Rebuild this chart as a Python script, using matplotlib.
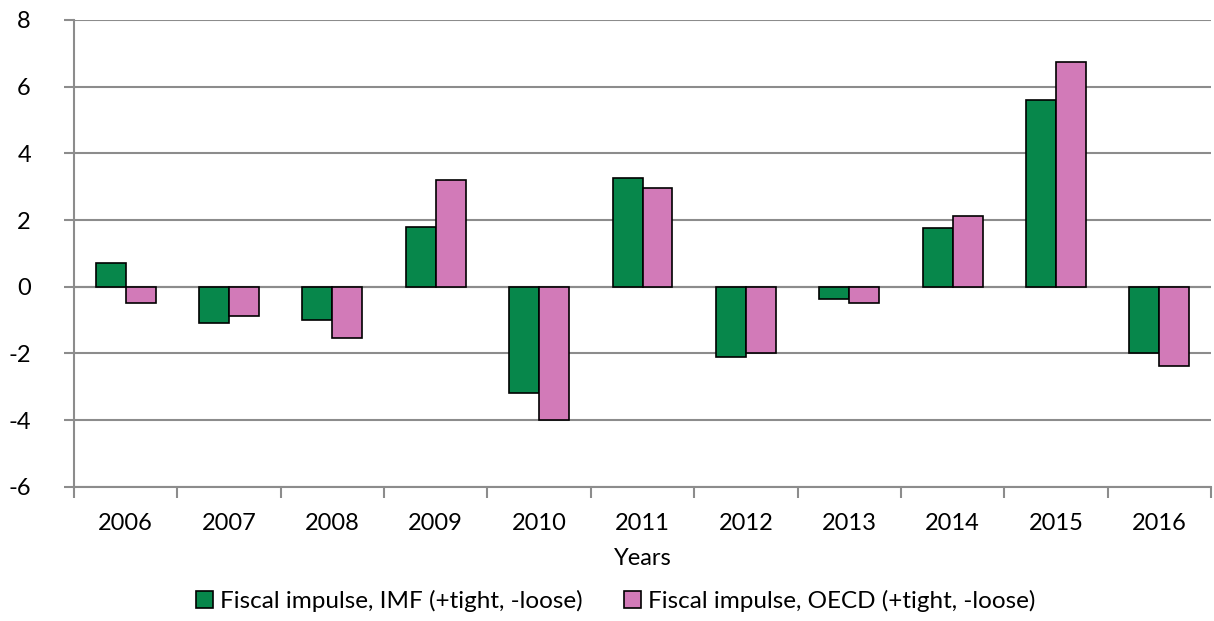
import numpy as np
import matplotlib.pyplot as plt

years = ['2006', '2007', '2008', '2009', '2010', '2011', '2012', '2013', '2014', '2015', '2016']
imf = [0.7, -1.1, -1.0, 1.8, -3.2, 3.25, -2.1, -0.38, 1.75, 5.6, -2.0]
oecd = [-0.5, -0.87, -1.55, 3.2, -4.0, 2.95, -2.0, -0.5, 2.12, 6.75, -2.37]
labels = ['Fiscal impulse, IMF (+tight, -loose)', 'Fiscal impulse, OECD (+tight, -loose)']

plt.rcParams['font.family'] = ['Lato', 'DejaVu Sans']
plt.rcParams['axes.unicode_minus'] = False

fig = plt.figure(figsize=(12.14, 6.21), dpi=100)
ax = fig.add_axes([0.061, 0.216, 0.9365, 0.752])

x = np.arange(len(years))
w = 0.29
ax.bar(x - w/2, imf, w, color='#07874b', edgecolor='black', linewidth=1.2, label=labels[0], zorder=3)
ax.bar(x + w/2, oecd, w, color='#d27ab8', edgecolor='black', linewidth=1.2, label=labels[1], zorder=3)

ax.set_xlim(-0.5, len(years) - 0.5)
ax.set_ylim(-6, 8)
ax.set_yticks(range(-6, 9, 2))
ax.yaxis.grid(True, color='#8c8c8c', linewidth=1.5, zorder=0)
ax.axhline(0, color='#8c8c8c', linewidth=1.5, zorder=2)

ax.set_xticks(x)
ax.set_xticklabels(years)
ax.set_xticks(np.arange(-0.5, len(years)), minor=True)
ax.tick_params(axis='x', which='major', length=0, labelsize=17, pad=19)
ax.tick_params(axis='x', which='minor', length=8, width=1.5, color='#8c8c8c', direction='out')
ax.tick_params(axis='y', length=7, width=1.5, color='#8c8c8c', labelsize=17, pad=24)

for s in ['top', 'right']:
    ax.spines[s].set_visible(False)
for s in ['left', 'bottom']:
    ax.spines[s].set_color('#8c8c8c')
    ax.spines[s].set_linewidth(1.5)

ax.set_xlabel('Years', fontsize=17, labelpad=10)

fig.legend(loc='center', bbox_to_anchor=(0.507, 0.032), ncol=2, frameon=False,
           fontsize=17.5, handlelength=0.7, handleheight=0.7, handletextpad=0.3,
           columnspacing=1.7)

fig.savefig('out.png', dpi=100)
